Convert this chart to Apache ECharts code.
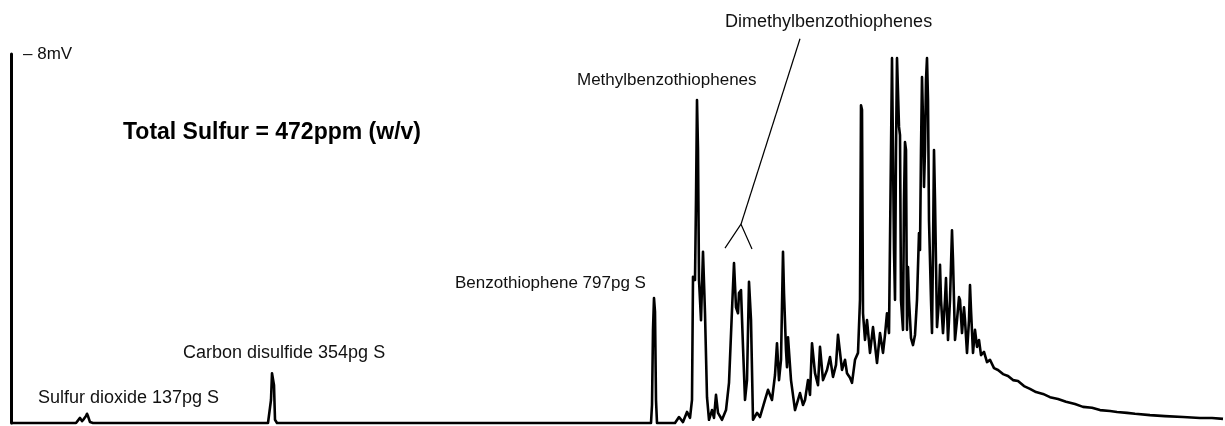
<!DOCTYPE html>
<html>
<head>
<meta charset="utf-8">
<script src="https://cdn.jsdelivr.net/npm/echarts@6/dist/echarts.min.js"></script>
<style>
html,body{margin:0;padding:0;background:#fff;}
#chart{width:1225px;height:426px;}
</style>
</head>
<body>
<div id="chart"></div>
<script>
// Retention time (arbitrary units) and detector signal (mV)
const retentionTime = [
  0, 65, 67, 69, 71, 73, 75, 76, 77, 79, 82,
  257, 259, 260, 261, 262, 263, 264, 266,
  640, 641, 642, 643, 644, 645, 646,
  664, 668, 672, 676, 679, 681, 682, 684, 685, 686, 687, 688, 690, 692, 694, 696, 698,
  701, 703, 705, 707, 711, 715, 718, 721, 723, 725, 727, 728, 730, 732, 734, 736, 738, 740, 742,
  746, 749, 754, 757, 761, 764, 766, 768, 770, 772, 773, 775, 776, 777, 780, 784, 789, 792, 794,
  797, 799, 801, 804, 807, 809, 812, 816, 819, 822, 825, 827, 831, 834, 836, 839, 841, 844, 847,
  849, 850, 851, 852, 854, 856, 859, 862, 866, 869, 872, 874, 876, 878,
  880, 881, 882, 883, 884, 885, 886, 887, 888, 889, 890, 892, 893, 894, 895, 896, 897, 898,
  900, 902, 904, 906, 908, 909, 910, 911, 912, 913, 914, 915, 916, 917, 918,
  920, 921, 922, 923, 924, 926, 928, 929, 930, 932, 934, 935, 936, 937, 939,
  941, 942, 944, 946, 948, 949, 951, 953, 954, 956, 958, 959, 960, 962, 964, 966, 968,
  970, 973, 976, 979, 983, 987, 992, 997, 1002, 1007, 1013, 1019, 1025, 1032, 1039, 1047,
  1055, 1064, 1072, 1081, 1089, 1099, 1106, 1116, 1124, 1139, 1154, 1172, 1189, 1201, 1212
];
const signal = [
  0, 0, 0.04, 0.11, 0.04, 0.09, 0.15, 0.20, 0.15, 0.02, 0,
  0, 0.04, 0.50, 1.08, 1.11, 0.82, 0.07, 0,
  0, 0.39, 2.02, 2.71, 2.41, 0.50, 0,
  0, 0.13, 0.02, 0.24, 0.11, 0.50, 3.17, 3.10, 4.83, 7.00, 5.92, 3.10, 2.23, 3.71, 2.38, 0.56, 0.07,
  0.28, 0.11, 0.61, 0.22, 0.07, 0.28, 0.87, 2.45, 3.47, 2.51, 2.38, 2.82, 2.88, 1.65, 0.50, 0.93, 3.06, 2.23, 0.07,
  0.22, 0.13, 0.50, 0.72, 0.50, 1.04, 1.73, 0.93, 1.37, 3.71, 2.82, 1.58, 1.21, 1.86, 0.93, 0.28, 0.65, 0.39, 0.50,
  0.93, 0.61, 1.73, 1.08, 0.82, 1.65, 0.93, 1.15, 1.43, 1.00, 1.26, 1.91, 1.15, 1.37, 1.08, 0.98, 0.87, 1.37, 1.52,
  2.67, 6.89, 6.79, 2.38, 1.80, 2.23, 1.52, 2.08, 1.30, 1.95, 1.52, 1.91, 2.38, 1.95,
  5.92, 7.91, 7.87, 3.75, 2.67, 5.92, 7.91, 7.87, 6.42, 6.24, 2.67, 2.02, 4.83, 6.09, 5.92, 2.02, 3.38, 2.67,
  1.84, 1.69, 1.91, 2.67, 4.12, 3.75, 5.92, 7.50, 6.57, 5.12, 5.92, 7.44, 7.91, 7.00, 4.40,
  2.67, 1.95, 3.75, 5.92, 4.83, 2.08, 2.67, 3.43, 2.67, 1.95, 2.67, 3.14, 2.45, 1.80, 2.67,
  4.18, 3.53, 1.80, 2.23, 2.73, 2.67, 1.95, 2.51, 2.23, 1.52, 2.23, 2.99, 2.45, 1.52, 2.02, 1.65, 1.80,
  1.47, 1.54, 1.32, 1.37, 1.19, 1.15, 1.06, 1.02, 0.93, 0.91, 0.80, 0.74, 0.67, 0.63, 0.56, 0.52,
  0.46, 0.41, 0.35, 0.33, 0.28, 0.26, 0.24, 0.22, 0.20, 0.17, 0.15, 0.13, 0.11, 0.11, 0.09
];
// Leader line for the dimethylbenzothiophene label (time, mV)
const leaderStemTime = [730, 789];
const leaderStemSignal = [4.31, 8.33];
const leaderForkTime = [714, 730, 741];
const leaderForkSignal = [3.79, 4.31, 3.77];
const yTicks = [0, 8];
const yTickLabels = ['', '\u2013 8mV'];

const zip = (a, b) => a.map((v, i) => [v, b[i]]);
const FONT = '"Liberation Sans", Arial, Helvetica, sans-serif';

const chart = echarts.init(document.getElementById('chart'), null, {renderer: 'canvas'});
chart.setOption({
  animation: false,
  backgroundColor: '#fff',
  grid: {left: 11, right: 0, top: 54, bottom: 3, containLabel: false},
  xAxis: {
    type: 'value', min: 0, max: 1214,
    axisLine: {show: false}, axisTick: {show: false}, axisLabel: {show: false}, splitLine: {show: false}
  },
  yAxis: {
    type: 'value', min: yTicks[0], max: yTicks[1], interval: yTicks[1] - yTicks[0],
    axisLine: {show: true, lineStyle: {color: '#000', width: 3}},
    axisTick: {show: false},
    splitLine: {show: false},
    axisLabel: {
      inside: true, margin: 12, color: '#111', fontFamily: FONT, fontSize: 17,
      formatter: (v) => yTickLabels[yTicks.indexOf(v)] || ''
    }
  },
  series: [
    {
      type: 'line', data: zip(retentionTime, signal), symbol: 'none', clip: false,
      lineStyle: {color: '#000', width: 2.6, join: 'round'}, z: 3
    },
    {
      type: 'line', data: zip(leaderStemTime, leaderStemSignal), symbol: 'none', clip: false,
      lineStyle: {color: '#000', width: 1.2}
    },
    {
      type: 'line', data: zip(leaderForkTime, leaderForkSignal), symbol: 'none', clip: false,
      lineStyle: {color: '#000', width: 1.2}
    }
  ],
  graphic: [
    {type: 'text', x: 123, y: 133, style: {text: 'Total Sulfur = 472ppm (w/v)', font: 'bold 23px ' + FONT, fill: '#000', verticalAlign: 'middle'}},
    {type: 'text', x: 38, y: 398, style: {text: 'Sulfur dioxide 137pg S', font: '18px ' + FONT, fill: '#111', verticalAlign: 'middle'}},
    {type: 'text', x: 183, y: 353, style: {text: 'Carbon disulfide 354pg S', font: '18px ' + FONT, fill: '#111', verticalAlign: 'middle'}},
    {type: 'text', x: 455, y: 283, style: {text: 'Benzothiophene 797pg S', font: '17px ' + FONT, fill: '#111', verticalAlign: 'middle'}},
    {type: 'text', x: 577, y: 80, style: {text: 'Methylbenzothiophenes', font: '17px ' + FONT, fill: '#111', verticalAlign: 'middle'}},
    {type: 'text', x: 725, y: 22, style: {text: 'Dimethylbenzothiophenes', font: '18px ' + FONT, fill: '#111', verticalAlign: 'middle'}}
  ]
});
</script>
</body>
</html>
